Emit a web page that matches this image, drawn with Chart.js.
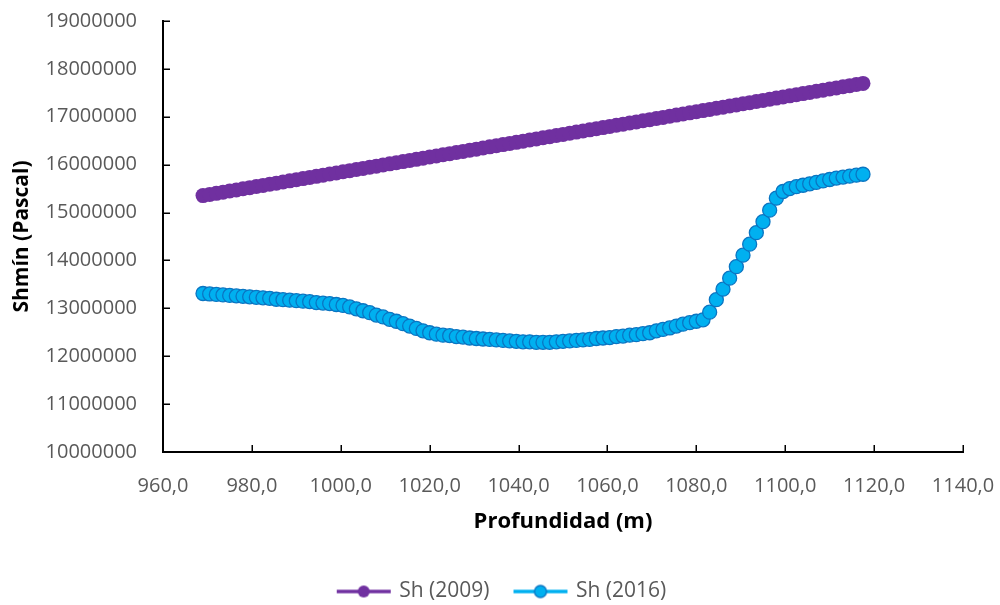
<!DOCTYPE html>
<html>
<head>
<meta charset="utf-8">
<script src="https://cdn.jsdelivr.net/npm/chart.js@4/dist/chart.umd.min.js"></script>
<style>
  body { margin: 0; background: #fff; }
  #wrap { width: 1000px; height: 605px; }
</style>
</head>
<body>
<div id="wrap"><canvas id="myChart" width="1000" height="605"></canvas></div>
<script>
// depth (m)
var depth = [
  969, 970.5, 972, 973.5, 975, 976.5, 978, 979.5, 981, 982.5,
  984, 985.5, 987, 988.5, 990, 991.5, 993, 994.5, 996, 997.5,
  999, 1000.5, 1002, 1003.5, 1005, 1006.5, 1008, 1009.5, 1011, 1012.5,
  1014, 1015.5, 1017, 1018.5, 1020, 1021.5, 1023, 1024.5, 1026, 1027.5,
  1029, 1030.5, 1032, 1033.5, 1035, 1036.5, 1038, 1039.5, 1041, 1042.5,
  1044, 1045.5, 1047, 1048.5, 1050, 1051.5, 1053, 1054.5, 1056, 1057.5,
  1059, 1060.5, 1062, 1063.5, 1065, 1066.5, 1068, 1069.5, 1071, 1072.5,
  1074, 1075.5, 1077, 1078.5, 1080, 1081.5, 1083, 1084.5, 1086, 1087.5,
  1089, 1090.5, 1092, 1093.5, 1095, 1096.5, 1098, 1099.5, 1101, 1102.5,
  1104, 1105.5, 1107, 1108.5, 1110, 1111.5, 1113, 1114.5, 1116, 1117.5
];

// Sh (2009), Pa
var sh2009 = [
  15354000, 15378000, 15401000, 15425000, 15449000, 15472000, 15496000, 15520000, 15543000, 15567000,
  15591000, 15614000, 15638000, 15662000, 15685000, 15709000, 15733000, 15756000, 15780000, 15804000,
  15827000, 15851000, 15875000, 15898000, 15922000, 15946000, 15969000, 15993000, 16017000, 16040000,
  16064000, 16088000, 16111000, 16135000, 16159000, 16182000, 16206000, 16230000, 16253000, 16277000,
  16301000, 16324000, 16348000, 16372000, 16395000, 16419000, 16443000, 16466000, 16490000, 16514000,
  16538000, 16561000, 16585000, 16609000, 16632000, 16656000, 16680000, 16703000, 16727000, 16751000,
  16774000, 16798000, 16822000, 16845000, 16869000, 16893000, 16916000, 16940000, 16964000, 16987000,
  17011000, 17035000, 17058000, 17082000, 17106000, 17129000, 17153000, 17177000, 17200000, 17224000,
  17248000, 17271000, 17295000, 17319000, 17342000, 17366000, 17390000, 17413000, 17437000, 17461000,
  17484000, 17508000, 17532000, 17555000, 17579000, 17603000, 17626000, 17650000, 17674000, 17697000
];

// Sh (2016), Pa
var sh2016 = [
  13310000, 13300000, 13290000, 13280000, 13270000, 13260000, 13250000, 13240000, 13230000, 13220000,
  13210000, 13190000, 13180000, 13170000, 13160000, 13150000, 13140000, 13120000, 13110000, 13100000,
  13080000, 13060000, 13030000, 12990000, 12950000, 12910000, 12860000, 12820000, 12770000, 12730000,
  12680000, 12630000, 12580000, 12530000, 12490000, 12460000, 12440000, 12430000, 12410000, 12400000,
  12380000, 12370000, 12360000, 12350000, 12340000, 12330000, 12320000, 12310000, 12300000, 12300000,
  12290000, 12290000, 12290000, 12300000, 12310000, 12320000, 12330000, 12340000, 12350000, 12370000,
  12380000, 12390000, 12410000, 12420000, 12440000, 12450000, 12470000, 12490000, 12530000, 12560000,
  12590000, 12630000, 12670000, 12700000, 12730000, 12760000, 12920000, 13180000, 13400000, 13630000,
  13870000, 14110000, 14340000, 14580000, 14810000, 15050000, 15300000, 15440000, 15500000, 15540000,
  15570000, 15600000, 15630000, 15660000, 15690000, 15720000, 15740000, 15760000, 15780000, 15800000
];

var seriesNames = ["Sh (2009)", "Sh (2016)"];
var xTitle = "Profundidad (m)";
var yTitle = "Shmín (Pascal)";

var purple = "#7030A0";
var lightBlue = "#00B0F0";
var darkBlue = "#0A75C2";
var grey = "#595959";

function toPoints(ys) {
    return depth.map(function (d, i) { return { x: d, y: ys[i] }; });
}

// little line + marker picture for the legend
function legendIcon(fill, stroke) {
    var c = document.createElement("canvas");
    c.width = 78;
    c.height = 16;
    var g = c.getContext("2d");
    g.strokeStyle = fill;
    g.lineWidth = 3.5;
    g.beginPath();
    g.moveTo(22, 8);
    g.lineTo(76, 8);
    g.stroke();
    g.beginPath();
    g.arc(49, 8, 6, 0, 2 * Math.PI);
    g.fillStyle = fill;
    g.fill();
    if (stroke) {
        g.lineWidth = 1.3;
        g.strokeStyle = stroke;
        g.stroke();
    }
    return c;
}
var icons = [legendIcon(purple), legendIcon(lightBlue, darkBlue)];

// Excel style tick marks pointing into the plot
var insideTicks = {
    id: "insideTicks",
    afterDraw: function (chart) {
        var ctx = chart.ctx, a = chart.chartArea;
        var x = chart.scales.x, y = chart.scales.y;
        ctx.save();
        ctx.strokeStyle = "#000";
        ctx.lineWidth = 1.5;
        ctx.beginPath();
        x.ticks.forEach(function (t) {
            var px = Math.round(x.getPixelForValue(t.value)) + 0.25;
            ctx.moveTo(px, a.bottom);
            ctx.lineTo(px, a.bottom - 7);
        });
        y.ticks.forEach(function (t) {
            var py = Math.round(y.getPixelForValue(t.value)) + 0.25;
            ctx.moveTo(a.left, py);
            ctx.lineTo(a.left + 7, py);
        });
        ctx.stroke();
        ctx.restore();
    }
};

var tickFont = { family: "'Open Sans', sans-serif", size: 20 };

var ctx = document.getElementById("myChart").getContext("2d");
var chart = new Chart(ctx, {
    type: "line",
    data: {
        datasets: [
            {
                label: seriesNames[0],
                data: toPoints(sh2009),
                borderColor: purple,
                backgroundColor: purple,
                borderWidth: 3,
                pointRadius: 7.5,
                pointBorderWidth: 0,
                pointBackgroundColor: purple,
                pointBorderColor: purple,
                tension: 0
            },
            {
                label: seriesNames[1],
                data: toPoints(sh2016),
                borderColor: lightBlue,
                backgroundColor: lightBlue,
                borderWidth: 3,
                pointRadius: 7,
                pointBorderWidth: 1.3,
                pointBackgroundColor: lightBlue,
                pointBorderColor: darkBlue,
                tension: 0
            }
        ]
    },
    options: {
        responsive: false,
        animation: false,
        layout: { padding: { left: 22, top: 21, right: 37, bottom: -7 } },
        plugins: {
            tooltip: { enabled: false },
            legend: {
                position: "bottom",
                labels: {
                    usePointStyle: true,
                    pointStyleWidth: 70,
                    padding: 6,
                    color: grey,
                    font: { family: "'Open Sans', sans-serif", size: 21 },
                    generateLabels: function (c) {
                        return c.data.datasets.map(function (ds, i) {
                            return {
                                text: ds.label,
                                pointStyle: icons[i],
                                datasetIndex: i,
                                fontColor: grey,
                                hidden: false,
                                lineWidth: 0,
                                strokeStyle: "transparent",
                                fillStyle: "transparent"
                            };
                        });
                    }
                }
            }
        },
        scales: {
            x: {
                type: "linear",
                min: 960,
                max: 1140,
                afterFit: function (s) { s.height = 123; },
                ticks: {
                    stepSize: 20,
                    maxRotation: 0,
                    autoSkip: false,
                    padding: 0,
                    color: grey,
                    font: tickFont,
                    callback: function (v) { return v.toFixed(1).replace(".", ","); }
                },
                // invisible tick marks just push the labels away from the axis
                grid: { display: true, drawOnChartArea: false, drawTicks: true, tickLength: 22, tickColor: "rgba(0,0,0,0)" },
                border: { display: true, color: "#000", width: 2 },
                title: {
                    display: true,
                    text: xTitle,
                    color: "#000",
                    font: { family: "'Open Sans', sans-serif", size: 22, weight: "bold" },
                    padding: { top: 4, bottom: 40 }
                }
            },
            y: {
                min: 10000000,
                max: 19000000,
                afterFit: function (s) { s.width = 141; },
                ticks: {
                    stepSize: 1000000,
                    autoSkip: false,
                    padding: 0,
                    color: grey,
                    font: tickFont,
                    callback: function (v) { return String(v); }
                },
                grid: { display: true, drawOnChartArea: false, drawTicks: true, tickLength: 26, tickColor: "rgba(0,0,0,0)" },
                border: { display: true, color: "#000", width: 2 },
                title: {
                    display: true,
                    text: yTitle,
                    color: "#000",
                    font: { family: "'Open Sans', sans-serif", size: 21, weight: "bold" },
                    padding: { top: -13, bottom: 4 }
                }
            }
        }
    },
    plugins: [insideTicks]
});
</script>
</body>
</html>
